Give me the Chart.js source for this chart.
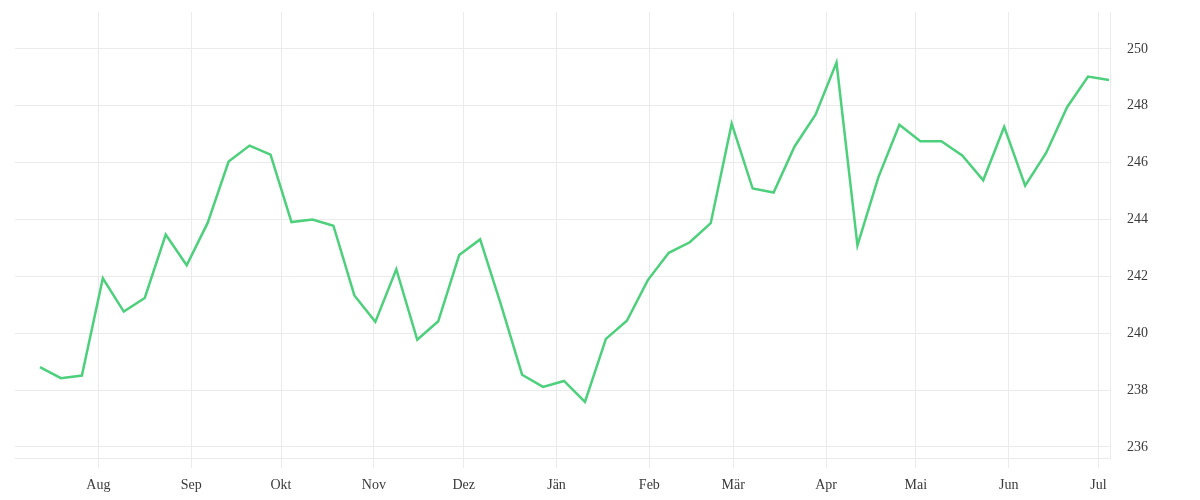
<!DOCTYPE html>
<html>
<head>
<meta charset="utf-8">
<script src="https://cdn.jsdelivr.net/npm/chart.js@4"></script>
<style>
  html, body { margin: 0; padding: 0; background: #fff; }
  #wrap { width: 1200px; height: 500px; }
</style>
</head>
<body>
<div id="wrap"><canvas id="chart"></canvas></div>
<script>
// weekly dates (categories)
const weekDates = [
  "2022-07-12", "2022-07-19", "2022-07-26", "2022-08-02", "2022-08-09", "2022-08-16",
  "2022-08-23", "2022-08-30", "2022-09-06", "2022-09-13", "2022-09-20", "2022-09-27",
  "2022-10-04", "2022-10-11", "2022-10-18", "2022-10-25", "2022-11-01", "2022-11-08",
  "2022-11-15", "2022-11-22", "2022-11-29", "2022-12-06", "2022-12-13", "2022-12-20",
  "2022-12-27", "2023-01-03", "2023-01-10", "2023-01-17", "2023-01-24", "2023-01-31",
  "2023-02-07", "2023-02-14", "2023-02-21", "2023-02-28", "2023-03-07", "2023-03-14",
  "2023-03-21", "2023-03-28", "2023-04-04", "2023-04-11", "2023-04-18", "2023-04-25",
  "2023-05-02", "2023-05-09", "2023-05-16", "2023-05-23", "2023-05-30", "2023-06-06",
  "2023-06-13", "2023-06-20", "2023-06-27", "2023-07-04"
];

const weekValues = [
  238.81, 238.42, 238.51, 241.93, 240.76, 241.24, 243.47, 242.39, 243.88, 246.04,
  246.60, 246.28, 243.91, 244.00, 243.78, 241.33, 240.40, 242.25, 239.77, 240.42,
  242.75, 243.30, 240.99, 238.54, 238.11, 238.32, 237.58, 239.80, 240.44, 241.87,
  242.83, 243.20, 243.87, 247.37, 245.09, 244.95, 246.57, 247.69, 249.52, 243.09,
  245.49, 247.33, 246.75, 246.75, 246.25, 245.38, 247.26, 245.19, 246.34, 247.95,
  249.03, 248.91
];

// month tick positions and labels
const monthStarts = [
  "2022-08-01", "2022-09-01", "2022-10-01", "2022-11-01", "2022-12-01", "2023-01-01",
  "2023-02-01", "2023-03-01", "2023-04-01", "2023-05-01", "2023-06-01", "2023-07-01"
];
const monthLabels = ["Aug", "Sep", "Okt", "Nov", "Dez", "Jän", "Feb", "Mär", "Apr", "Mai", "Jun", "Jul"];

const toTime = (d) => Date.parse(d + "T12:00:00Z");
const toDay = (d) => Date.parse(d + "T00:00:00Z");

const gridColor = "#ebebeb";
const textColor = "#3a3a3a";

const points = weekDates.map((d, i) => ({ x: toTime(d), y: weekValues[i] }));

new Chart(document.getElementById("chart"), {
  type: "line",
  data: {
    datasets: [
      {
        data: points,
        borderColor: "#4dd07b",
        borderWidth: 2.5,
        pointRadius: 0,
        pointHoverRadius: 0,
        tension: 0,
        fill: false,
      },
    ],
  },
  options: {
    responsive: true,
    maintainAspectRatio: false,
    animation: false,
    layout: { padding: { left: 15, top: 12, right: 0, bottom: 0 } },
    plugins: { legend: { display: false }, tooltip: { enabled: false } },
    scales: {
      x: {
        type: "linear",
        min: Date.parse("2022-07-04T04:00:00Z"),
        max: Date.parse("2023-07-04T20:00:00Z"),
        afterBuildTicks: (scale) => {
          scale.ticks = monthStarts.map((d) => ({ value: toDay(d) }));
        },
        afterFit: (scale) => {
          scale.height = 42;
          scale.paddingLeft = 0;
          scale.paddingRight = 0;
        },
        ticks: {
          autoSkip: false,
          maxRotation: 0,
          padding: 9,
          color: textColor,
          font: { family: "'Liberation Serif'", size: 14 },
          callback: (value, index) => monthLabels[index],
        },
        grid: { color: gridColor, tickLength: 10, lineWidth: 1 },
        border: { display: true, color: gridColor },
      },
      y: {
        position: "right",
        min: 235.61,
        max: 251.3,
        afterFit: (scale) => {
          scale.width = 90;
          scale.paddingTop = 0;
          scale.paddingBottom = 0;
        },
        ticks: {
          stepSize: 2,
          includeBounds: false,
          padding: 17,
          color: textColor,
          font: { family: "'Liberation Serif'", size: 14 },
        },
        grid: { color: gridColor, drawTicks: false, lineWidth: 1 },
        border: { display: true, color: gridColor },
      },
    },
  },
});
</script>
</body>
</html>
